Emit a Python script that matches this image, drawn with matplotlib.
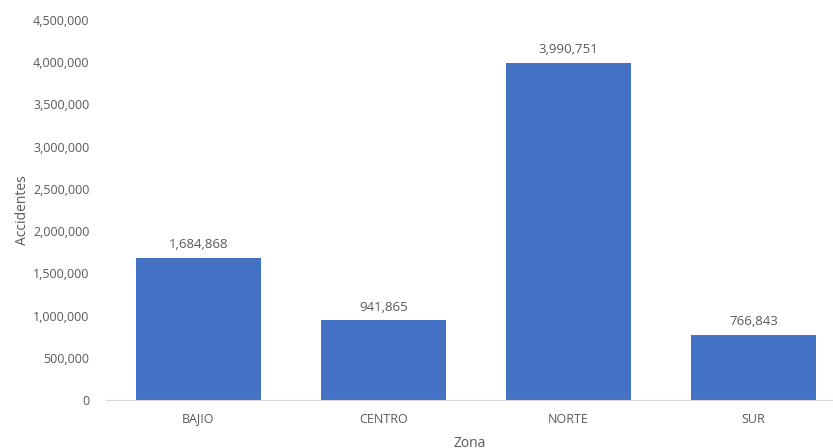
import matplotlib.pyplot as plt
from matplotlib.ticker import FuncFormatter

plt.rcParams['font.family'] = ['Open Sans', 'DejaVu Sans']

zonas = ['BAJIO', 'CENTRO', 'NORTE', 'SUR']
accidentes = [1684868, 941865, 3990751, 766843]

bar_color = '#4472C4'
text_color = '#595959'

fig = plt.figure(figsize=(8.33, 4.48), dpi=100)
ax = fig.add_axes([106/833, 48/448, 727/833, 380/448])

x = range(len(zonas))
bars = ax.bar(x, accidentes, width=0.676, color=bar_color, zorder=2)

for b, v in zip(bars, accidentes):
    ax.annotate(f'{v:,}', (b.get_x() + b.get_width()/2, v),
                xytext=(0, 5), textcoords='offset points',
                ha='center', va='bottom', fontsize=9.5, color=text_color)

ax.set_xlim(-0.5, 3.43)
ax.set_ylim(0, 4500000)
ax.set_yticks(range(0, 4500001, 500000))
ax.yaxis.set_major_formatter(FuncFormatter(lambda v, p: f'{int(v):,}'))
ax.set_xticks(list(x))
ax.set_xticklabels(zonas)

for s in ['top', 'right', 'left']:
    ax.spines[s].set_visible(False)
ax.spines['bottom'].set_color('#D9D9D9')
ax.tick_params(axis='both', length=0, labelsize=9, colors=text_color)
ax.tick_params(axis='x', pad=9)
ax.tick_params(axis='y', pad=12)

ax.set_xlabel('Zona', fontsize=10, color=text_color)
ax.xaxis.set_label_coords(0.5, -0.095)
ax.set_ylabel('Accidentes', fontsize=10, color=text_color)
ax.yaxis.set_label_coords(-0.104, 0.5)

fig.savefig('out.png', dpi=100)
